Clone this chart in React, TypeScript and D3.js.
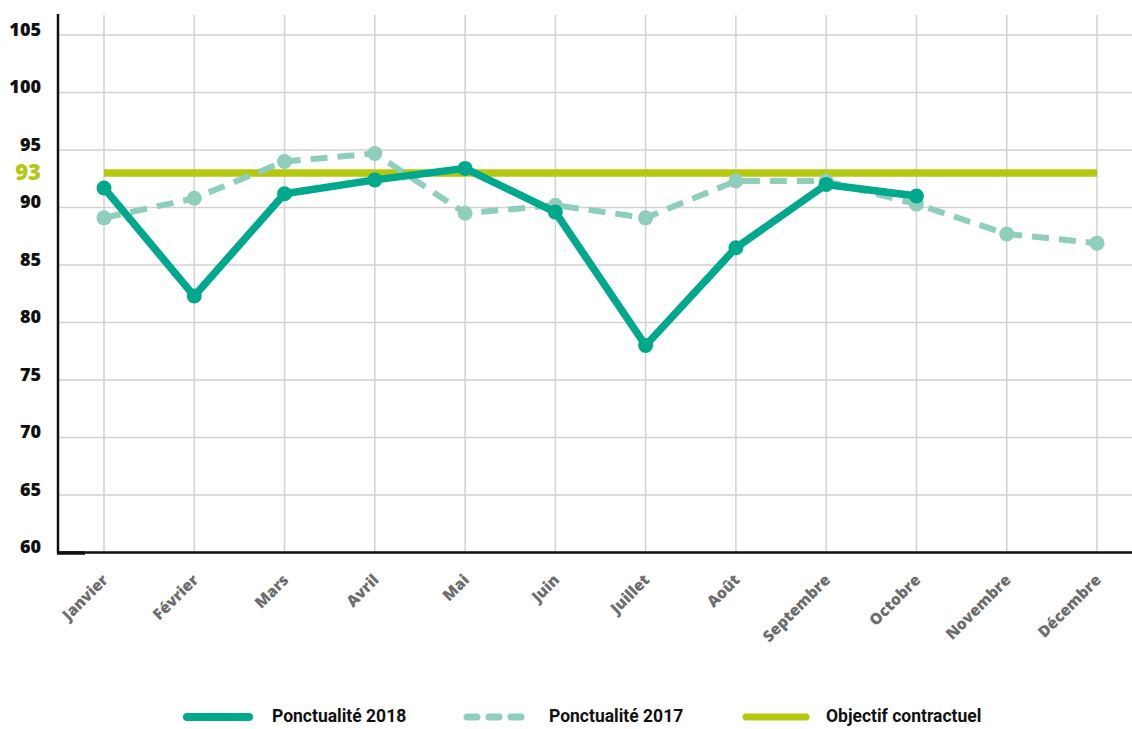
import React from "react";
import * as d3 from "d3";

const months = ["Janvier", "Février", "Mars", "Avril", "Mai", "Juin", "Juillet", "Août", "Septembre", "Octobre", "Novembre", "Décembre"];
const ponct2018 = [91.7, 82.3, 91.2, 92.4, 93.4, 89.6, 78.0, 86.5, 92.0, 91.0];
const ponct2017 = [89.1, 90.8, 94.0, 94.7, 89.5, 90.2, 89.1, 92.3, 92.3, 90.3, 87.7, 86.9];
const objectif = 93;
const yTicks = [60, 65, 70, 75, 80, 85, 90, 95, 100, 105];
const legendLabels = ["Ponctualité 2018", "Ponctualité 2017", "Objectif contractuel"];

const C2018 = "#00a88c";
const C2017 = "#8fcdbd";
const COBJ = "#b2c90f";

export default function App() {
  const W = 1132, H = 729;
  const axisX = 58;
  const x = d3.scalePoint<string>().domain(months).range([104, 1097]);
  const y = d3.scaleLinear().domain([60, 105]).range([552.5, 35]);
  const line = d3.line<number>().x((_, i) => x(months[i])!).y((d) => y(d));

  const font = "'Open Sans', sans-serif";
  const legendFont = "Roboto, sans-serif";

  return (
    <svg width={W} height={H} style={{ position: "absolute", left: 0, top: 0, background: "#fff" }}>
      {yTicks.map((t) => (
        <line key={"h" + t} x1={axisX} x2={W} y1={y(t)} y2={y(t)} stroke="#d2d2d2" strokeWidth={1.5} />
      ))}
      {months.map((m) => (
        <line key={"v" + m} x1={x(m)} x2={x(m)} y1={15} y2={552} stroke="#d2d2d2" strokeWidth={1.5} />
      ))}
      <line x1={axisX} x2={axisX} y1={14} y2={553.5} stroke="#111" strokeWidth={2.5} />
      <line x1={axisX - 1} x2={W} y1={552.5} y2={552.5} stroke="#111" strokeWidth={2.5} />
      <line x1={axisX - 1} x2={85} y1={553} y2={553} stroke="#111" strokeWidth={3.5} />

      {yTicks.map((t) => (
        <text key={"yl" + t} x={41} y={y(t) - 4} textAnchor="end" dominantBaseline="middle"
          fontFamily={font} fontWeight={800} fontSize={18} fill="#111">{t}</text>
      ))}
      <text x={41} y={y(objectif) + 1} textAnchor="end" dominantBaseline="middle"
        fontFamily={font} fontWeight={800} fontSize={22} fill={COBJ}>{objectif}</text>

      {months.map((m) => (
        <text key={"xl" + m} transform={`translate(${x(m)! + 5},${581}) rotate(-45)`} textAnchor="end"
          fontFamily={font} fontWeight={800} fontSize={15.5} fill="#6d6d6d">{m}</text>
      ))}

      <line x1={x(months[0])} x2={x(months[11])} y1={y(objectif)} y2={y(objectif)} stroke={COBJ} strokeWidth={7.5} />

      <path d={line(ponct2017)!} fill="none" stroke={C2017} strokeWidth={6} strokeDasharray="17 10" />
      {ponct2017.map((v, i) => (
        <circle key={"p17" + i} cx={x(months[i])} cy={y(v)} r={7.5} fill={C2017} />
      ))}

      <path d={line(ponct2018)!} fill="none" stroke={C2018} strokeWidth={7.5} strokeLinejoin="round" />
      {ponct2018.map((v, i) => (
        <circle key={"p18" + i} cx={x(months[i])} cy={y(v)} r={7.5} fill={C2018} />
      ))}

      <line x1={187} x2={249} y1={717} y2={717} stroke={C2018} strokeWidth={8} strokeLinecap="round" />
      <text x={272} y={717} dominantBaseline="middle" fontFamily={legendFont} fontWeight={700} fontSize={17.5} fill="#111">{legendLabels[0]}</text>
      <line x1={467} x2={528} y1={717} y2={717} stroke={C2017} strokeWidth={7} strokeLinecap="round" strokeDasharray="10 12" />
      <text x={549} y={717} dominantBaseline="middle" fontFamily={legendFont} fontWeight={700} fontSize={17.5} fill="#111">{legendLabels[1]}</text>
      <line x1={746} x2={806} y1={717} y2={717} stroke={COBJ} strokeWidth={7} strokeLinecap="round" />
      <text x={826} y={717} dominantBaseline="middle" fontFamily={legendFont} fontWeight={700} fontSize={17.5} fill="#111">{legendLabels[2]}</text>
    </svg>
  );
}
